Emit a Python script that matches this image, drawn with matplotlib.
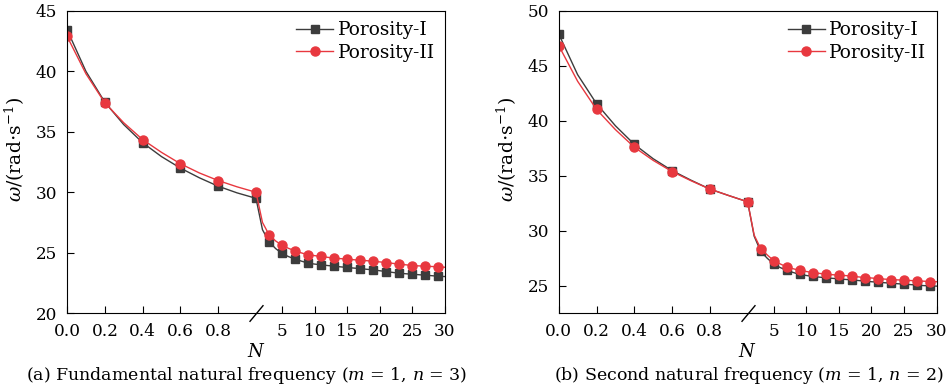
# Natural frequency vs power-law index N for two porosity distributions
import numpy as np
import matplotlib
matplotlib.use("Agg")
import matplotlib.pyplot as plt

plt.rcParams['font.family'] = ['DejaVu Serif']
plt.rcParams['mathtext.fontset'] = 'dejavuserif'

# Data: N from 0 to 1 in steps of 0.1, then 2..30
N = [0.0, 0.1, 0.2, 0.3, 0.4, 0.5, 0.6, 0.7, 0.8, 0.9, 1.0] + list(range(2, 31))

# (a) fundamental natural frequency (m=1, n=3)
a_por1 = [43.45, 40.0, 37.45, 35.6, 34.1, 32.95, 32.0, 31.2, 30.5, 29.95, 29.5,
          26.9, 25.92, 25.35, 24.94, 24.68, 24.47, 24.3, 24.14, 24.06, 24.0, 23.94,
          23.89, 23.83, 23.78, 23.73, 23.69, 23.63, 23.58, 23.51, 23.44, 23.37,
          23.3, 23.26, 23.22, 23.18, 23.14, 23.1, 23.05, 23.03]
a_por2 = [42.9, 39.8, 37.4, 35.75, 34.36, 33.3, 32.36, 31.6, 30.97, 30.45, 30.0,
          27.5, 26.5, 25.98, 25.61, 25.36, 25.16, 24.98, 24.83, 24.76, 24.69, 24.62,
          24.55, 24.51, 24.47, 24.42, 24.38, 24.34, 24.3, 24.24, 24.19, 24.12,
          24.05, 24.0, 23.94, 23.91, 23.89, 23.86, 23.83, 23.8]

# (b) second natural frequency (m=1, n=2)
b_por1 = [47.9, 44.2, 41.56, 39.55, 37.86, 36.55, 35.47, 34.6, 33.79, 33.2, 32.63,
          29.5, 28.13, 27.5, 26.97, 26.65, 26.39, 26.2, 26.02, 25.93, 25.84, 25.78,
          25.72, 25.67, 25.62, 25.57, 25.53, 25.47, 25.41, 25.36, 25.32, 25.27,
          25.23, 25.18, 25.14, 25.1, 25.05, 25.01, 24.98, 24.96]
b_por2 = [46.85, 43.6, 41.04, 39.2, 37.6, 36.4, 35.38, 34.55, 33.79, 33.2, 32.63,
          29.6, 28.38, 27.8, 27.28, 26.98, 26.7, 26.54, 26.39, 26.29, 26.2, 26.12,
          26.05, 26.0, 25.96, 25.92, 25.87, 25.8, 25.74, 25.7, 25.65, 25.6,
          25.56, 25.53, 25.5, 25.47, 25.44, 25.41, 25.38, 25.36]

tick_vals = [0.0, 0.2, 0.4, 0.6, 0.8, 5, 10, 15, 20, 25, 30]
tick_labels = ['0.0', '0.2', '0.4', '0.6', '0.8', '5', '10', '15', '20', '25', '30']

captions = [r'(a) Fundamental natural frequency ($m$ = 1, $n$ = 3)',
            r'(b) Second natural frequency ($m$ = 1, $n$ = 2)']


# broken axis: [0,1] and [1,30] each take half the width
def fwd(x):
    x = np.asarray(x, dtype=float)
    return np.where(x <= 1, x, 1 + (x - 1) / 29.0)


def inv(y):
    y = np.asarray(y, dtype=float)
    return np.where(y <= 1, y, 1 + (y - 1) * 29.0)


fig = plt.figure(figsize=(9.47, 3.9), dpi=100)
ax_a = fig.add_axes([0.0708, 0.197, 0.399, 0.775])
ax_b = fig.add_axes([0.590, 0.197, 0.399, 0.775])

panels = [(ax_a, a_por1, a_por2, (20, 45), [20, 25, 30, 35, 40, 45]),
          (ax_b, b_por1, b_por2, (22.5, 50), [25, 30, 35, 40, 45, 50])]

for ax, p1, p2, ylim, yt in panels:
    ax.set_xscale('function', functions=(fwd, inv))
    ax.plot(N, p1, color='#3c3c3c', lw=1.0, marker='s', ms=5.5, markevery=2,
            label='Porosity-I')
    ax.plot(N, p2, color='#e8383f', lw=1.0, marker='o', ms=6.5, markevery=2,
            label='Porosity-II')
    ax.set_xlim(0, 30)
    ax.set_ylim(*ylim)
    ax.set_xticks(tick_vals)
    ax.set_xticklabels(tick_labels)
    ax.set_yticks(yt)
    ax.minorticks_off()
    ax.tick_params(direction='in', length=5, width=0.8, labelsize=12.2, pad=7)
    ax.set_xlabel('$N$', fontsize=13, labelpad=2)
    ax.set_ylabel(r'$\omega$/(rad$\cdot$s$^{-1}$)', fontsize=13.5)
    ax.yaxis.set_label_coords(-0.105, 0.54)
    ax.legend(loc='upper right', frameon=False, fontsize=13.3, handlelength=2.0,
              handletextpad=0.25, labelspacing=0.25, borderaxespad=0.15)
    # break mark on the x axis at N = 1
    ax.plot([1], [0], marker=[(-1, -1.2), (1, 1.2)], ms=12, mew=1.0, color='black',
            transform=ax.get_xaxis_transform(), clip_on=False)

fig.text(247 / 947, 0.038, captions[0], ha='center', va='center', fontsize=12.5)
fig.text(749 / 947, 0.038, captions[1], ha='center', va='center', fontsize=12.5)

fig.savefig('out.png', dpi=100)
